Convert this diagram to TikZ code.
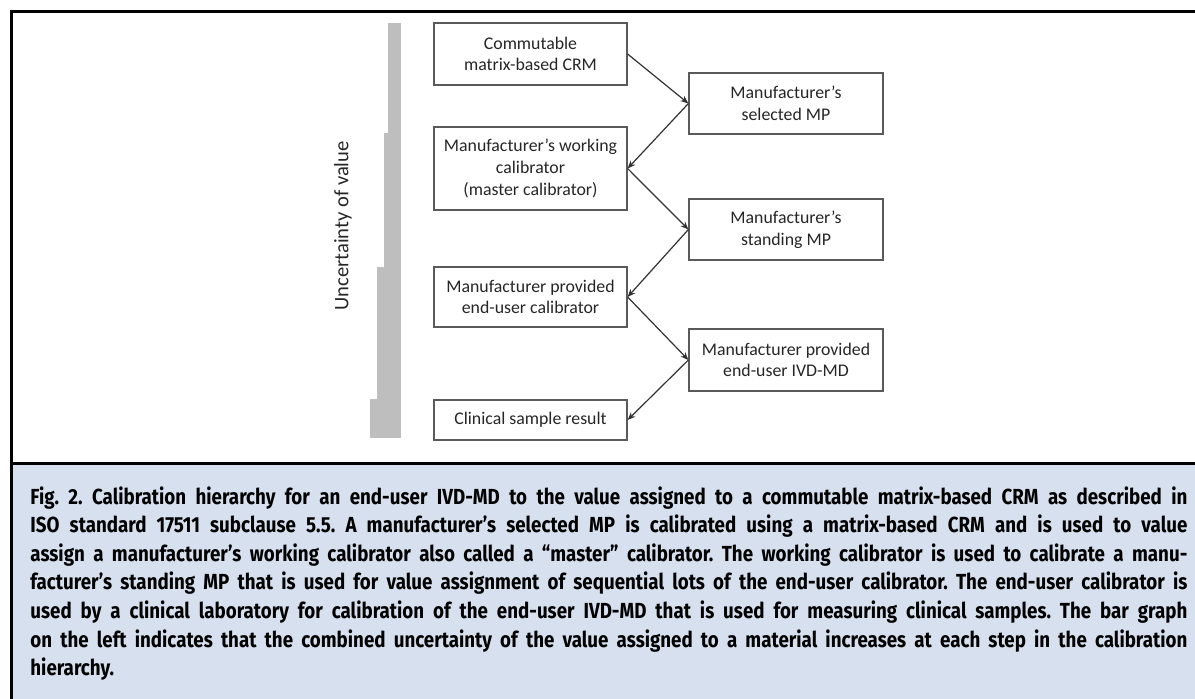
\documentclass[tikz,border=0pt]{standalone}
\usepackage{fontspec}
\usetikzlibrary{arrows.meta}
\setmainfont{Carlito}
\newfontfamily\capfont[FakeStretch=0.86]{Fira Sans}
\definecolor{capblue}{RGB}{214,224,238}
\definecolor{bargray}{RGB}{190,190,190}
\definecolor{boxline}{RGB}{90,90,90}
\definecolor{linkline}{RGB}{50,50,50}

\begin{document}
\begin{tikzpicture}[x=0.5pt,y=-0.5pt,
    box/.style={draw=boxline, line width=0.6pt, fill=white, align=center, inner sep=0pt,
        font=\fontsize{8.9}{10.8}\selectfont, text=black!85},
    link/.style={draw=linkline, line width=0.6pt, -{Stealth[length=4pt,width=3.2pt]}}]
        \useasboundingbox (0,0) rectangle (1195,699);

        % caption panel and frame
        \fill[capblue] (11,463.5) rectangle (1195,699);
        \draw[line width=1.5pt] (11,699) -- (11,11.5) -- (1195,11.5);
        \draw[line width=1.5pt] (11,463.5) -- (1195,463.5);

        % bar graph of uncertainty
        \fill[bargray] (388,23) rectangle (401,133);
        \fill[bargray] (384,133) rectangle (401,267);
        \fill[bargray] (377,267) rectangle (401,399);
        \fill[bargray] (370,399) rectangle (401,438);
        \node[rotate=90, font=\fontsize{10.3}{12}\selectfont, text=black!85] (unc) at (343,226) {Uncertainty of value};

        % left column
        \node[box, minimum width=96.5pt, minimum height=31pt] (crm) at (530.5,54) {Commutable\\matrix-based CRM};
        \node[box, minimum width=96.5pt, minimum height=41.5pt] (workcal) at (530.5,168.5) {Manufacturer’s working\\calibrator\\(master calibrator)};
        \node[box, minimum width=96.5pt, minimum height=30pt] (eucal) at (530.5,297) {Manufacturer provided\\end-user calibrator};
        \node[box, minimum width=96.5pt, minimum height=20pt] (result) at (530.5,420) {Clinical sample result};

        % right column
        \node[box, minimum width=97pt, minimum height=30.5pt] (selmp) at (786,103.5) {Manufacturer’s\\selected MP};
        \node[box, minimum width=97pt, minimum height=30.5pt] (standmp) at (786,229.5) {Manufacturer’s\\standing MP};
        \node[box, minimum width=97pt, minimum height=31pt] (ivdmd) at (786,360) {Manufacturer provided\\end-user IVD-MD};

        \draw[link] (crm.east) -- (selmp.west);
        \draw[link] (selmp.west) -- (workcal.east);
        \draw[link] (workcal.east) -- (standmp.west);
        \draw[link] (standmp.west) -- (eucal.east);
        \draw[link] (eucal.east) -- (ivdmd.west);
        \draw[link] (ivdmd.west) -- (result.east);

        % caption
        \node[anchor=north west, inner sep=0pt, text width=578.5pt, align=justify,
            font=\capfont\bfseries\fontsize{10.9}{14.3}\selectfont\frenchspacing] (caption) at (30,486) {%
            Fig.~2. Calibration hierarchy for an end-user IVD-MD to the value assigned to a commutable matrix-based CRM as described in\linebreak
            ISO standard 17511 subclause 5.5. A manufacturer’s selected MP is calibrated using a matrix-based CRM and is used to value\linebreak
            assign a manufacturer’s working calibrator also called a “master” calibrator. The working calibrator is used to calibrate a manu-\linebreak
            facturer’s standing MP that is used for value assignment of sequential lots of the end-user calibrator. The end-user calibrator is\linebreak
            used by a clinical laboratory for calibration of the end-user IVD-MD that is used for measuring clinical samples. The bar graph\linebreak
            on the left indicates that the combined uncertainty of the value assigned to a material increases at each step in the calibration\linebreak
            hierarchy.};
    \end{tikzpicture}
\end{document}
